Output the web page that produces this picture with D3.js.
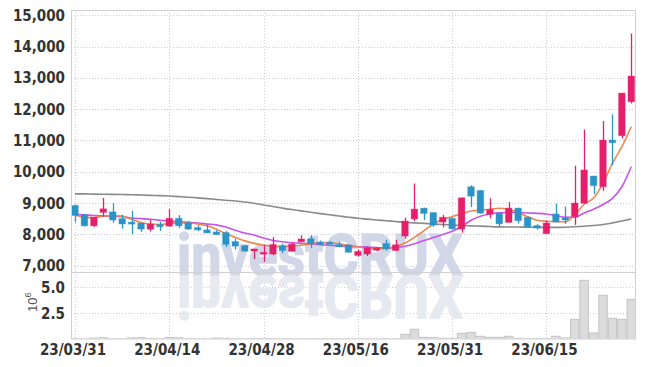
<!DOCTYPE html>
<html>
<head>
<meta charset="utf-8">
<script src="https://cdn.jsdelivr.net/npm/d3@7"></script>
<style>
  body { margin: 0; background: #fff; }
  svg { display: block; }
  .tick-label { font-family: "Liberation Sans Narrow", "DejaVu Sans Condensed", sans-serif; font-weight: bold; font-size: 15px; fill: #333; }
</style>
</head>
<body>
<div id="chart"></div>
<script>
// trading days (yy/mm/dd)
const dates = [
  "23/03/31","23/04/03","23/04/04","23/04/05","23/04/06","23/04/07","23/04/10","23/04/11","23/04/12","23/04/13",
  "23/04/14","23/04/17","23/04/18","23/04/19","23/04/20","23/04/21","23/04/24","23/04/25","23/04/26","23/04/27",
  "23/04/28","23/05/02","23/05/03","23/05/04","23/05/08","23/05/09","23/05/10","23/05/11","23/05/12","23/05/15",
  "23/05/16","23/05/17","23/05/18","23/05/19","23/05/22","23/05/23","23/05/24","23/05/25","23/05/26","23/05/30",
  "23/05/31","23/06/01","23/06/02","23/06/05","23/06/07","23/06/08","23/06/09","23/06/12","23/06/13","23/06/14",
  "23/06/15","23/06/16","23/06/19","23/06/20","23/06/21","23/06/22","23/06/23","23/06/26","23/06/27","23/06/28"
];

const open  = [8920,8620,8272,8700,8717,8500,8390,8360,8163,8310, 8260,8510,8370,8217,8140,8075,8055,7770,7640,7490,
               7380,7370,7640,7457,7760,7860,7750,7745,7675,7660, 7325,7370,7490,7705,7480,7945,8490,8835,8695,8390,
               8510,8165,9520,9400,8640,8675,8380,8835,8545,8280, 8020,8650,8520,8565,8990,9860,9520,11010,11150,12235];
const high  = [8950,8650,8560,9160,9000,8620,8750,8370,8460,8400, 8800,8610,8420,8290,8315,8130,8100,7860,7650,7540,
               7660,7910,7700,7750,7970,7965,7800,7790,7770,7670, 7520,7610,7590,7825,7825,8530,9620,8850,8700,8620,
               8545,9180,9565,9410,9150,8690,9035,8850,8560,8325, 8435,8980,8885,10190,11350,9870,11615,11830,12520,14415];
const low   = [8380,8250,8240,8560,8370,8185,8000,8080,8090,8110, 8240,8200,8140,8100,8040,7980,7590,7510,7450,7210,
               7120,7335,7400,7440,7750,7565,7660,7690,7590,7410, 7285,7305,7455,7480,7470,7860,8425,8455,8240,8220,
               8160,8055,8870,8660,8510,8260,8370,8350,8230,8150, 8010,8380,8330,8300,8985,9285,9385,10210,11065,12180];
const close = [8600,8270,8543,8815,8457,8330,8340,8165,8326,8240, 8510,8270,8165,8141,8045,7990,7675,7620,7460,7530,
               7425,7675,7480,7685,7850,7695,7675,7700,7600,7425, 7455,7575,7555,7535,7665,8425,8805,8665,8295,8545,
               8175,9165,9220,8675,8785,8335,8835,8435,8240,8200, 8360,8400,8480,9000,10055,9555,11010,10925,12510,13055];

// volume in millions
const volume = [0.05,0.04,0.12,0.15,0.06,0.05,0.14,0.16,0.08,0.06, 0.18,0.14,0.06,0.05,0.04,0.12,0.10,0.05,0.04,0.05,
                0.06,0.07,0.04,0.05,0.04,0.03,0.04,0.03,0.03,0.04, 0.03,0.04,0.03,0.05,0.06,0.48,0.96,0.19,0.16,0.10,
                0.10,0.58,0.67,0.29,0.19,0.19,0.29,0.10,0.07,0.07, 0.07,0.29,0.13,1.92,5.67,0.61,4.23,2.02,1.92,3.85];

// moving averages
const maShort = [8620,8550,8530,8580,8600,8580,8480,8380,8330,8315, 8340,8365,8360,8330,8270,8160,8020,7900,7790,7710,
                 7650,7620,7610,7620,7650,7690,7740,7725,7700,7650, 7600,7560,7530,7545,7600,7720,7900,8110,8330,8470,
                 8570,8650,8745,8770,8800,8830,8790,8700,8560,8450, 8415,8400,8400,8617,8960,9160,9628,10266,10798,11436];
const maMid   = [8640,8620,8600,8590,8580,8560,8520,8500,8480,8450, 8420,8400,8380,8360,8330,8300,8230,8130,8040,7980,
                 7880,7800,7760,7730,7710,7700,7670,7650,7630,7610, 7600,7590,7575,7565,7580,7620,7696,7800,7900,7990,
                 8100,8250,8450,8580,8650,8690,8695,8695,8680,8670, 8650,8600,8545,8545,8680,8800,8950,9150,9520,10160];
const maLong  = [9293,9290,9283,9280,9277,9271,9264,9254,9245,9235, 9222,9205,9186,9163,9140,9114,9088,9065,9033,8990,
                 8938,8889,8837,8791,8749,8703,8661,8622,8586,8547, 8511,8485,8459,8433,8407,8381,8364,8348,8332,8315,
                 8299,8283,8270,8260,8247,8237,8234,8231,8227,8224, 8221,8221,8227,8240,8257,8280,8312,8364,8423,8488];

const priceTicks = [7000,8000,9000,10000,11000,12000,13000,14000,15000];
const volumeTicks = [2.5, 5.0];

const W = 645, H = 367;
const left = 71, right = 636;
const priceTop = 10, priceBottom = 272, volBottom = 338.5;
const upColor = "#e5206b", downColor = "#2b93c6";

const svg = d3.select("#chart").append("svg")
    .attr("width", W).attr("height", H)
    .attr("viewBox", `0 0 ${W} ${H}`);

const idx = d3.range(dates.length);

const x = d3.scaleBand()
    .domain(idx)
    .range([70.3, right])
    .paddingInner(0.3)
    .paddingOuter(0.15);
const cx = i => x(i) + x.bandwidth() / 2;

const y = d3.scaleLinear().domain([7000, 15000]).range([265.6, 15.2]);
const yv = d3.scaleLinear().domain([0, 5]).range([339.3, 287.3]);

svg.append("clipPath").attr("id", "priceClip")
    .append("rect").attr("x", left).attr("y", priceTop).attr("width", right - left).attr("height", priceBottom - priceTop);
svg.append("clipPath").attr("id", "volClip")
    .append("rect").attr("x", left).attr("y", priceBottom).attr("width", right - left).attr("height", volBottom - priceBottom);

// grid
const grid = svg.append("g").attr("stroke", "#c9ccdb").attr("stroke-dasharray", "1,2").attr("stroke-width", 1);
grid.selectAll(".hg").data(priceTicks).enter().append("line")
    .attr("x1", left).attr("x2", right)
    .attr("y1", d => Math.round(y(d)) + 0.5).attr("y2", d => Math.round(y(d)) + 0.5);
grid.selectAll(".vg").data(volumeTicks).enter().append("line")
    .attr("x1", left).attr("x2", right)
    .attr("y1", d => Math.round(yv(d)) + 0.5).attr("y2", d => Math.round(yv(d)) + 0.5);
const xTicks = idx.filter(i => i % 10 === 0);
grid.selectAll(".xg").data(xTicks).enter().append("line")
    .attr("x1", d => Math.round(cx(d)) + 0.5).attr("x2", d => Math.round(cx(d)) + 0.5)
    .attr("y1", priceTop).attr("y2", volBottom);

// watermark with reflection
const wm = svg.append("g")
    .style("font-family", "Roboto, 'Liberation Sans', sans-serif")
    .style("font-weight", "bold").style("font-size", "60px");
wm.append("text")
    .attr("x", 320).attr("y", 276)
    .attr("text-anchor", "middle")
    .attr("textLength", 286).attr("lengthAdjust", "spacingAndGlyphs")
    .attr("fill", "#d2d7e8").attr("stroke", "#d2d7e8").attr("stroke-width", 1.5)
    .text("investCRUX");
wm.append("text")
    .attr("x", 320).attr("y", -276)
    .attr("transform", "scale(1,-1)")
    .attr("text-anchor", "middle")
    .attr("textLength", 286).attr("lengthAdjust", "spacingAndGlyphs")
    .attr("fill", "#e7e9f0").attr("stroke", "#e7e9f0").attr("stroke-width", 1.5)
    .text("investCRUX");

// volume bars
svg.append("g").attr("clip-path", "url(#volClip)")
    .selectAll("rect").data(idx).enter().append("rect")
    .attr("x", i => cx(i) - x.step() / 2 + 0.5)
    .attr("width", x.step() - 1)
    .attr("y", i => yv(volume[i]))
    .attr("height", i => yv(0) - yv(volume[i]))
    .attr("fill", "#dcdcdc")
    .attr("stroke", "#c4c4c4")
    .attr("stroke-width", 1);

// moving averages
const line = arr => d3.line().x(i => cx(i)).y(i => y(arr[i])).curve(d3.curveMonotoneX)(idx);
const maG = svg.append("g").attr("clip-path", "url(#priceClip)").attr("fill", "none").attr("stroke-width", 1.6);
maG.append("path").attr("d", line(maLong)).attr("stroke", "#8a8a8a");
maG.append("path").attr("d", line(maMid)).attr("stroke", "#c653ea");
maG.append("path").attr("d", line(maShort)).attr("stroke", "#ef8650");

// candles
const candles = svg.append("g").attr("clip-path", "url(#priceClip)")
    .selectAll("g").data(idx).enter().append("g");
const col = i => close[i] >= open[i] ? upColor : downColor;
candles.append("line")
    .attr("x1", i => Math.round(cx(i)) + 0.5).attr("x2", i => Math.round(cx(i)) + 0.5)
    .attr("y1", i => y(high[i])).attr("y2", i => y(low[i]))
    .attr("stroke", col).attr("stroke-width", 1.3);
candles.append("rect")
    .attr("x", i => cx(i) - 3.3)
    .attr("width", 6.6)
    .attr("y", i => y(Math.max(open[i], close[i])))
    .attr("height", i => Math.max(2, Math.abs(y(open[i]) - y(close[i]))))
    .attr("fill", col)
    .attr("stroke", col).attr("stroke-opacity", 0.3).attr("stroke-width", 1.2);

// frame
const frame = svg.append("g").attr("stroke", "#cfcfd4").attr("stroke-width", 1).attr("fill", "none");
frame.append("rect").attr("x", left + 0.5).attr("y", priceTop + 0.5)
    .attr("width", right - left - 1).attr("height", volBottom - priceTop);
frame.append("line").attr("x1", left).attr("x2", right).attr("y1", priceBottom + 0.5).attr("y2", priceBottom + 0.5);

// axis labels
svg.append("g").selectAll("text").data(priceTicks).enter().append("text")
    .attr("class", "tick-label")
    .attr("x", 65).attr("y", d => y(d) + 5.5)
    .attr("text-anchor", "end")
    .text(d => d3.format(",")(d));
svg.append("g").selectAll("text").data(volumeTicks).enter().append("text")
    .attr("class", "tick-label")
    .attr("x", 65).attr("y", d => yv(d) + 5.5)
    .attr("text-anchor", "end")
    .text(d => d3.format(".1f")(d));
svg.append("g").selectAll("text").data(xTicks).enter().append("text")
    .attr("class", "tick-label")
    .attr("x", d => cx(d) - 2).attr("y", 355)
    .attr("text-anchor", "middle")
    .text(d => dates[d]);

const unit = svg.append("text")
    .attr("transform", "translate(37,312) rotate(-90)")
    .style("font-family", "'Liberation Sans', sans-serif")
    .style("font-size", "13px").attr("fill", "#555");
unit.append("tspan").text("10");
unit.append("tspan").attr("dy", -6).style("font-size", "9px").text("6");
</script>
</body>
</html>
